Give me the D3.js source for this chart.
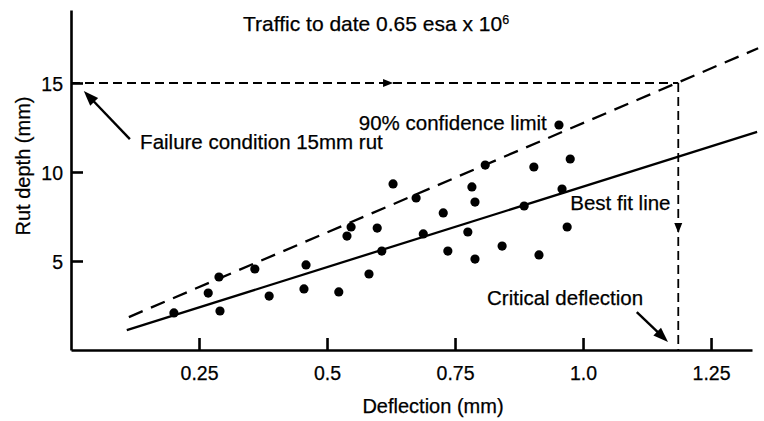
<!DOCTYPE html>
<html lang="en">
<head>
    <meta charset="UTF-8">
    <script src="https://d3js.org/d3.v7.min.js"></script>
    <title>rut depth vs deflection</title>
    <style>
      body{margin:0;background:#fff;}
      svg{display:block;font-family:"Liberation Sans",Arial,Helvetica,sans-serif;}
      svg text{stroke:#000;stroke-width:0.25px;}
    </style>
</head>
<body>
    <div id="svg-container"></div>

    <script>
      // points
      var deflection = [0.201,0.268,0.289,0.291,0.359,0.387,0.459,0.455,0.523,0.539,0.547,0.598,0.582,0.607,0.629,0.674,
                        0.688,0.727,0.736,0.783,0.789,0.775,0.789,0.809,0.842,0.885,0.904,0.914,0.953,0.975,0.959,0.969];
      var rutDepth   = [2.08,3.20,4.10,2.19,4.55,3.03,4.78,3.43,3.26,6.40,6.91,6.85,4.27,5.56,9.33,8.54,
                        6.52,7.70,5.56,9.16,8.31,6.63,5.11,10.39,5.84,8.09,10.28,5.34,12.64,10.73,9.04,6.91];

      var xTicks = [0.25, 0.5, 0.75, 1.0, 1.25];
      var xTickLabels = ["0.25", "0.5", "0.75", "1.0", "1.25"];
      var yTicks = [5, 10, 15];

      var bestFit = [[0.109, 1.12], [1.34, 12.25]];
      var confLimit = [[0.113, 1.85], [1.342, 16.95]];
      var failureRut = 15;
      var criticalDeflection = 1.186;

      var annotations = [
        {text: "90% confidence limit", x: 0.562, y: 12.36},
        {text: "Failure condition 15mm rut", x: 0.135, y: 11.29},
        {text: "Best fit line", x: 0.975, y: 7.87},
        {text: "Critical deflection", x: 0.8125, y: 2.53}
      ];

      var arrows = [
        {from: [0.115, 11.85], to: [0.025, 14.55]},
        {from: [1.105, 2.13], to: [1.166, 0.45]}
      ];

      var width = 764, height = 421;

      var x = d3.scaleLinear().domain([0, 1.33]).range([71, 752]);
      var y = d3.scaleLinear().domain([0, 19.1]).range([350, 10]);

      var svg = d3.select("#svg-container").append("svg")
          .attr("width", width)
          .attr("height", height);

      svg.append("rect").attr("width", width).attr("height", height).attr("fill", "#fff");

      function head(tip, from, len, half){
        var dx = tip[0]-from[0], dy = tip[1]-from[1];
        var d = Math.sqrt(dx*dx+dy*dy);
        var ux = dx/d, uy = dy/d;
        var bx = tip[0]-ux*len, by = tip[1]-uy*len;
        return "M"+tip[0]+","+tip[1]+
               "L"+(bx-uy*half)+","+(by+ux*half)+
               "L"+(bx+uy*half)+","+(by-ux*half)+"Z";
      }

      // axes
      var xAxis = d3.axisBottom(x).tickValues(xTicks)
          .tickFormat(function(d,i){ return xTickLabels[i]; })
          .tickSizeInner(-12).tickSizeOuter(0);
      var yAxis = d3.axisLeft(y).tickValues(yTicks)
          .tickFormat(d3.format("d"))
          .tickSizeInner(-12).tickSizeOuter(0);

      var gx = svg.append("g").attr("transform", "translate(0," + y(0) + ")").call(xAxis);
      var gy = svg.append("g").attr("transform", "translate(" + x(0) + ",0)").call(yAxis);

      [gx, gy].forEach(function(g){
        g.select(".domain").attr("stroke", "#000").attr("stroke-width", 2.6);
        g.selectAll(".tick line").attr("stroke", "#000").attr("stroke-width", 2.6);
        g.selectAll(".tick text").attr("fill", "#000").attr("font-size", 19.5)
          .attr("font-family", "Liberation Sans, Arial, sans-serif");
      });
      gx.selectAll(".tick text").attr("y", 30).attr("dy", 0);
      gy.selectAll(".tick text").attr("x", -8).attr("dy", "0.36em");

      // axis titles
      svg.append("text")
          .attr("x", 433).attr("y", 413)
          .attr("text-anchor", "middle").attr("font-size", 20)
          .text("Deflection (mm)");
      svg.append("text")
          .attr("transform", "translate(30,166) rotate(-90)")
          .attr("text-anchor", "middle").attr("font-size", 20)
          .text("Rut depth (mm)");

      var line = d3.line().x(function(d){ return x(d[0]); }).y(function(d){ return y(d[1]); });

      // failure / critical guide lines
      svg.append("path")
          .attr("d", line([[0, failureRut], [criticalDeflection, failureRut]]))
          .attr("fill", "none").attr("stroke", "#000").attr("stroke-width", 1.8)
          .attr("stroke-dasharray", "9,5");
      svg.append("path")
          .attr("d", line([[criticalDeflection, failureRut], [criticalDeflection, 0]]))
          .attr("fill", "none").attr("stroke", "#000").attr("stroke-width", 1.8)
          .attr("stroke-dasharray", "9,5");
      svg.append("path")
          .attr("d", head([x(0.629), y(failureRut)], [x(0.5), y(failureRut)], 10, 4))
          .attr("fill", "#000");
      svg.append("path")
          .attr("d", head([x(criticalDeflection), y(6.57)], [x(criticalDeflection), y(10)], 10, 4))
          .attr("fill", "#000");

      // fitted lines
      svg.append("path")
          .attr("d", line(confLimit))
          .attr("fill", "none").attr("stroke", "#000").attr("stroke-width", 2.3)
          .attr("stroke-dasharray", "15,9");
      svg.append("path")
          .attr("d", line(bestFit))
          .attr("fill", "none").attr("stroke", "#000").attr("stroke-width", 2.3);

      // points
      svg.append("g").selectAll("circle")
          .data(deflection.map(function(d,i){ return [d, rutDepth[i]]; }))
          .enter().append("circle")
          .attr("cx", function(d){ return x(d[0]); })
          .attr("cy", function(d){ return y(d[1]); })
          .attr("r", 4.6)
          .attr("fill", "#000");

      // labels
      svg.append("g").selectAll("text")
          .data(annotations)
          .enter().append("text")
          .attr("x", function(d){ return x(d.x); })
          .attr("y", function(d){ return y(d.y); })
          .attr("font-size", 20.5)
          .text(function(d){ return d.text; });

      var traffic = svg.append("text")
          .attr("x", x(0.336)).attr("y", y(17.92))
          .attr("font-size", 21)
          .text("Traffic to date 0.65 esa x 10");
      traffic.append("tspan").attr("font-size", 12.5).attr("dy", -7).text("6");

      // annotation arrows
      arrows.forEach(function(a){
        var p0 = [x(a.from[0]), y(a.from[1])], p1 = [x(a.to[0]), y(a.to[1])];
        var d = Math.hypot(p1[0]-p0[0], p1[1]-p0[1]);
        var end = [p1[0]-(p1[0]-p0[0])/d*8, p1[1]-(p1[1]-p0[1])/d*8];
        svg.append("line")
            .attr("x1", p0[0]).attr("y1", p0[1]).attr("x2", end[0]).attr("y2", end[1])
            .attr("stroke", "#000").attr("stroke-width", 2.4);
        svg.append("path").attr("d", head(p1, p0, 15, 5.5)).attr("fill", "#000");
      });
    </script>
</body>
</html>
